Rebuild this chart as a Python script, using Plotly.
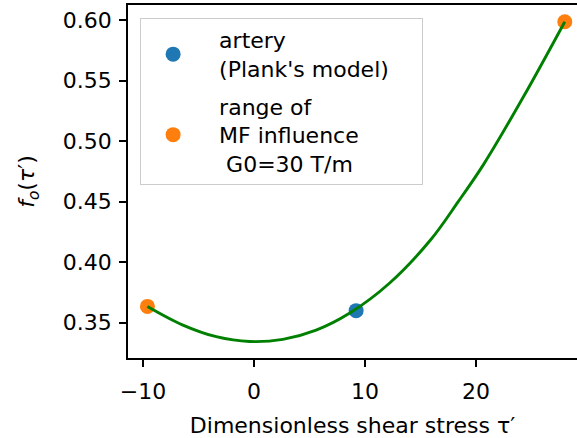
import plotly.graph_objects as go

# Data
curve_tau = [-9.6, -6.4, -3.4, -0.4, 2.6, 5.6, 8.6, 12.2, 15.9, 18.4, 20.7, 24.3, 28.0]
curve_f = [0.3635, 0.3481, 0.3385, 0.3345, 0.3363, 0.3439, 0.3578, 0.3826, 0.4183, 0.4500, 0.4810, 0.5370, 0.5986]
artery_tau = [9.2]
artery_f = [0.3600]
range_tau = [-9.6, 28.0]
range_f = [0.3635, 0.5986]
x_ticks = [-10, 0, 10, 20]
y_ticks = [0.35, 0.40, 0.45, 0.50, 0.55, 0.60]

FONT = "DejaVu Sans"
FS = 22
INK = "black"
PAD = "&nbsp;&nbsp;"

fig = go.Figure()
fig.add_trace(go.Scatter(
    x=artery_tau, y=artery_f, mode="markers",
    marker=dict(color="#1f77b4", size=15),
    name=PAD + "artery<br>" + PAD + "(Plank's model)" + PAD + PAD,
    legendgroup="a",
))
fig.add_trace(go.Scatter(
    x=range_tau, y=range_f, mode="markers",
    marker=dict(color="#ff7f0e", size=15),
    name=PAD + "range of<br>" + PAD + "MF influence<br>" + PAD + " G0=30 T/m",
    legendgroup="b",
))
fig.add_trace(go.Scatter(
    x=curve_tau, y=curve_f, mode="lines",
    line=dict(color="green", width=2.9, shape="spline", smoothing=1.0),
    showlegend=False, hoverinfo="skip",
))

fig.update_layout(
    width=577, height=438,
    margin=dict(l=128, r=0, t=5, b=80),
    paper_bgcolor="white", plot_bgcolor="white",
    font=dict(family=FONT, size=FS, color=INK),
    showlegend=True,
    legend=dict(
        x=0.027, y=0.963, xanchor="left", yanchor="top",
        bordercolor="#cccccc", borderwidth=1, bgcolor="rgba(255,255,255,0.8)",
        font=dict(family=FONT, size=FS, color=INK),
        itemwidth=54, tracegroupgap=6,
    ),
    xaxis=dict(
        range=[-11.35, 29.1], tickvals=x_ticks,
        showline=True, linecolor=INK, linewidth=1.5, mirror=True,
        ticks="outside", ticklen=7, tickcolor=INK, tickwidth=1.5,
        ticklabelstandoff=6,
        showgrid=False, zeroline=False,
        title=dict(text="Dimensionless shear stress τ′", font=dict(size=FS), standoff=14),
    ),
    yaxis=dict(
        range=[0.3209, 0.6124], tickvals=y_ticks, tickformat=".2f",
        showline=True, linecolor=INK, linewidth=1.5, mirror=False,
        ticks="outside", ticklen=7, tickcolor=INK, tickwidth=1.5,
        ticklabelstandoff=3,
        showgrid=False, zeroline=False,
        title=dict(text="<i>f</i><sub><i>o</i></sub>(<i>τ</i>′)", font=dict(size=FS), standoff=22),
    ),
)

fig.write_html("out.html")
